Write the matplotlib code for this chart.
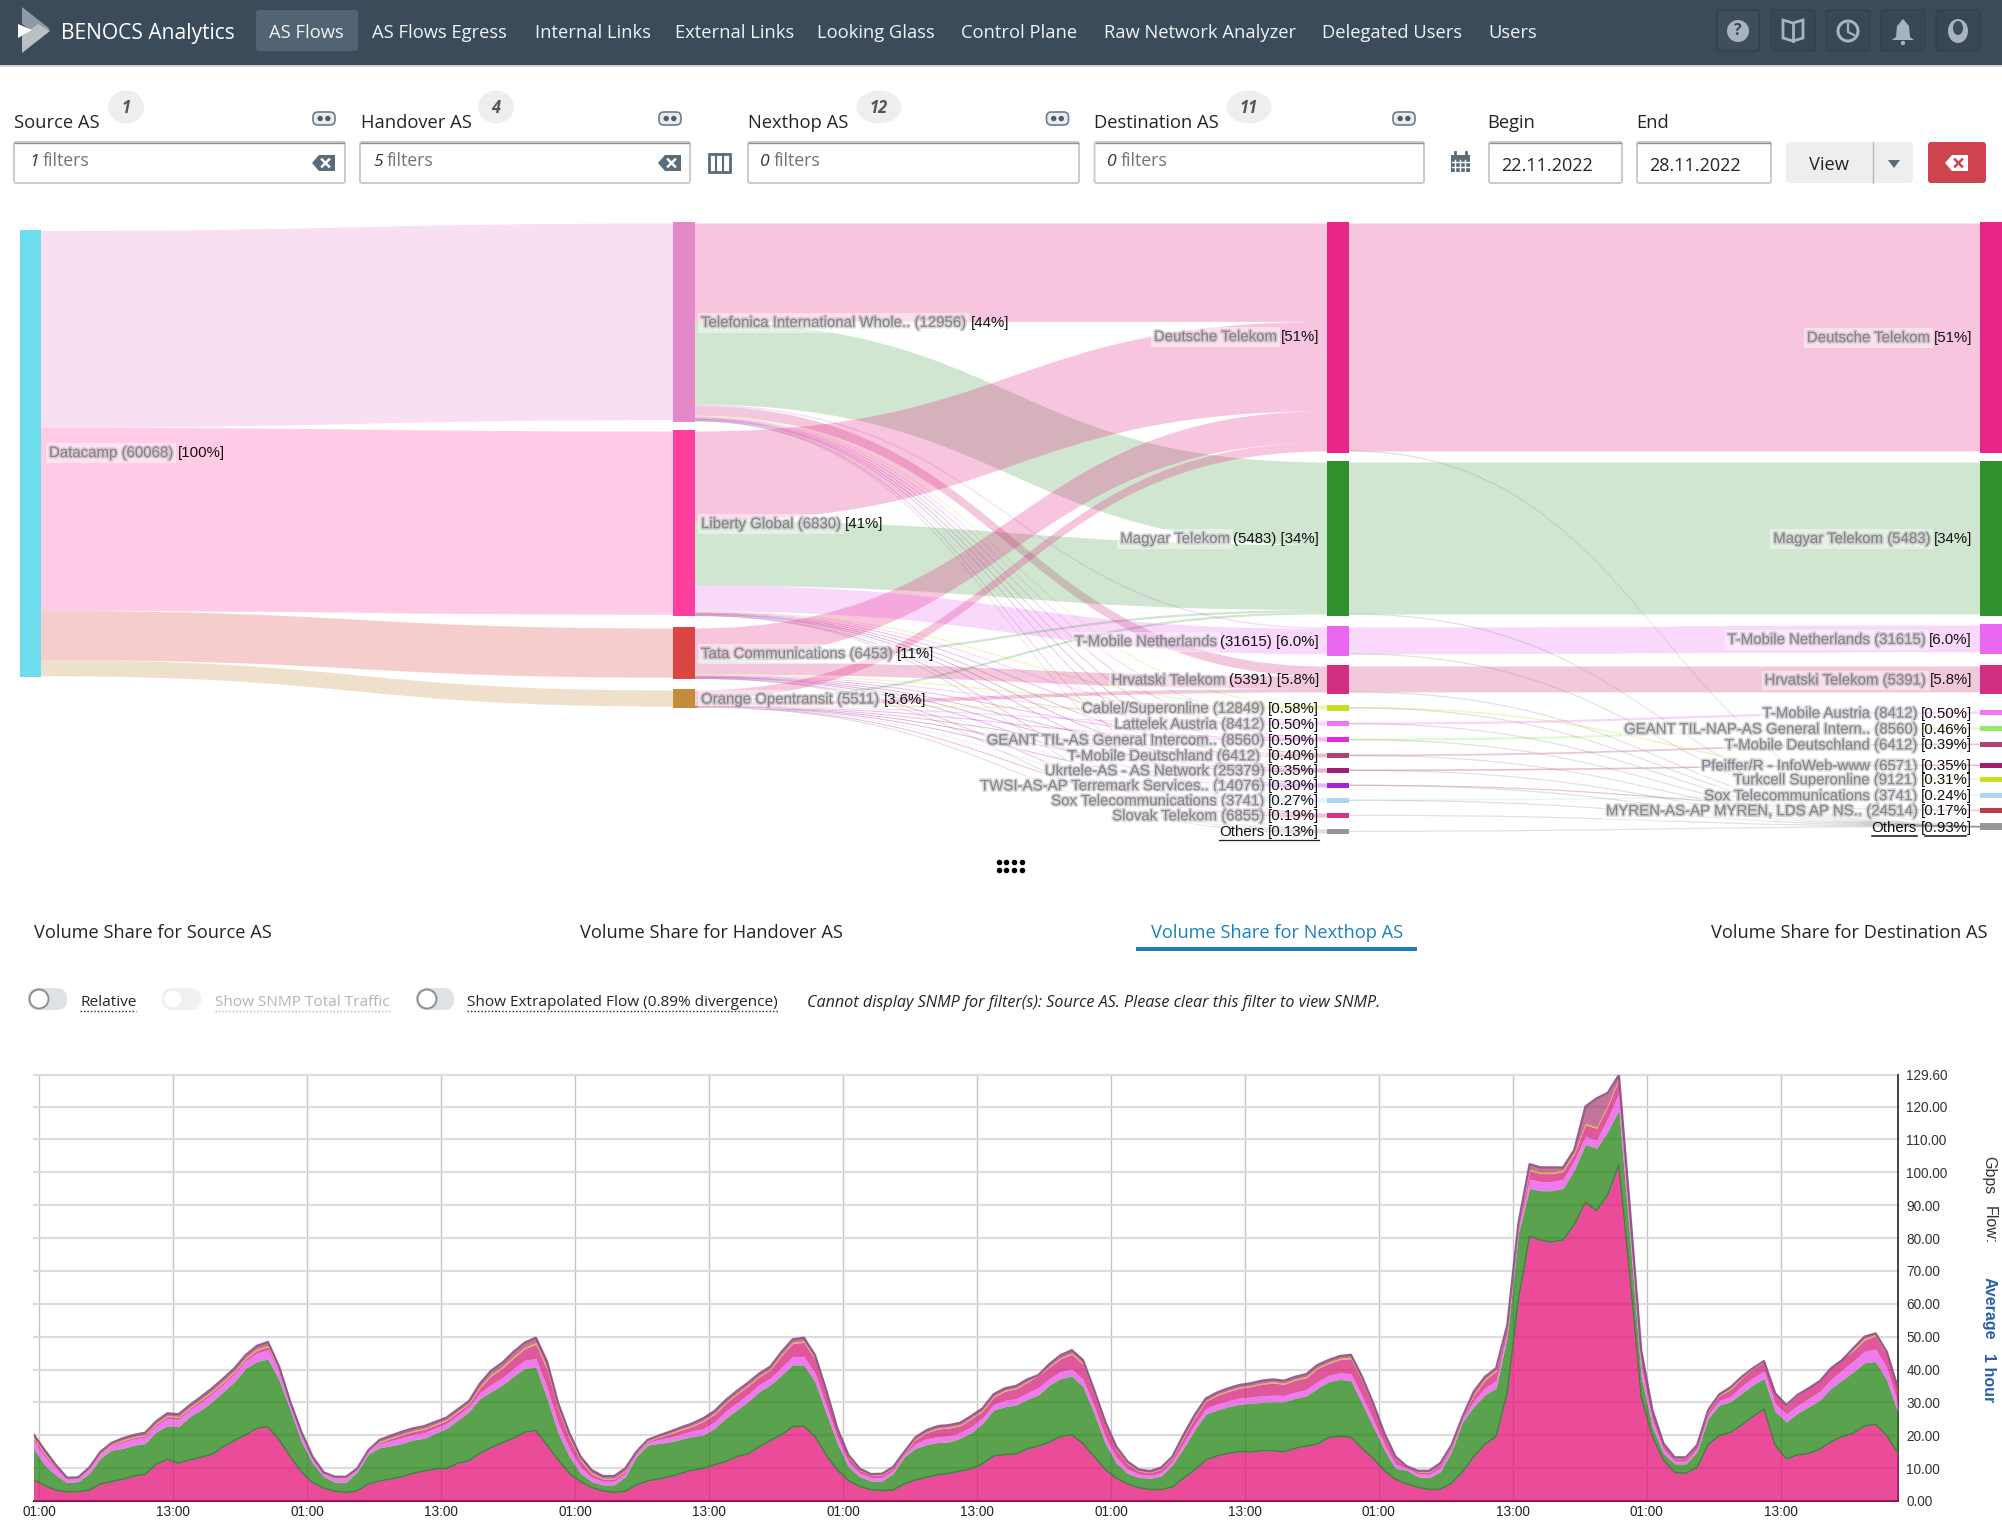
import matplotlib
matplotlib.use("Agg")
import matplotlib.pyplot as plt
import numpy as np
from matplotlib.patches import Rectangle, FancyBboxPatch, Ellipse, PathPatch, Polygon, Circle
from matplotlib.path import Path
import matplotlib.patheffects as pe

# ------------------------------------------------------------------ data
nav_items = ["AS Flows", "AS Flows Egress", "Internal Links", "External Links", "Looking Glass",
             "Control Plane", "Raw Network Analyzer", "Delegated Users", "Users"]
filter_labels = ["Source AS", "Handover AS", "Nexthop AS", "Destination AS"]
filter_badges = ["1", "4", "12", "11"]
filter_counts = ["1", "5", "0", "0"]
tab_labels = ["Volume Share for Source AS", "Volume Share for Handover AS",
              "Volume Share for Nexthop AS", "Volume Share for Destination AS"]

source_share = [100]
source_flows = [44, 41, 11, 3.6]
handover_names = ["Telefonica International Whole.. (12956)", "Liberty Global (6830)",
                  "Tata Communications (6453)", "Orange Opentransit (5511)"]
handover_share = [44, 41, 11, 3.6]
handover_pct = ["[44%]", "[41%]", "[11%]", "[3.6%]"]
nexthop_names = ["Deutsche Telekom", "Magyar Telekom", "T-Mobile Netherlands", "Hrvatski Telekom",
                 "Cablel/Superonline (12849)", "Lattelek Austria (8412)",
                 "GEANT TIL-AS General Intercom.. (8560)", "T-Mobile Deutschland (6412) ",
                 "Ukrtele-AS - AS Network (25379)", "TWSI-AS-AP Terremark Services.. (14076)",
                 "Sox Telecommunications (3741)", "Slovak Telekom (6855)", ""]
nexthop_crisp = ["[51%]", "(5483) [34%]", "(31615) [6.0%]", "(5391) [5.8%]", "[0.58%]", "[0.50%]",
                 "[0.50%]", "[0.40%]", "[0.35%]", "[0.30%]", "[0.27%]", "[0.19%]", "[0.13%]"]
nexthop_share = [51, 34, 6.0, 5.8, 0.58, 0.50, 0.50, 0.40, 0.35, 0.30, 0.27, 0.19, 0.13]
dest_names = ["Deutsche Telekom", "Magyar Telekom (5483)", "T-Mobile Netherlands (31615)",
              "Hrvatski Telekom (5391)", "T-Mobile Austria (8412)",
              "GEANT TIL-NAP-AS General Intern.. (8560)", "T-Mobile Deutschland (6412)",
              "Pfeiffer/R - InfoWeb-www (6571)", "Turkcell Superonline (9121)",
              "Sox Telecommunications (3741)", "MYREN-AS-AP MYREN, LDS AP NS.. (24514)", ""]
dest_crisp = ["[51%]", "[34%]", "[6.0%]", "[5.8%]", "[0.50%]", "[0.46%]", "[0.39%]", "[0.35%]",
              "[0.31%]", "[0.24%]", "[0.17%]", "[0.93%]"]
dest_share = [51, 34, 6.0, 5.8, 0.50, 0.46, 0.39, 0.35, 0.31, 0.24, 0.17, 0.93]

# handover -> nexthop main flows, percent of total
h_to_main = [[22, 18.5, 0.3, 2.2],
             [20, 14.5, 5.7, 0.0],
             [7, 0.5, 0.0, 2.8],
             [2, 0.5, 0.0, 0.8]]
# handover -> nexthop small flows, percent of total
h_to_small = [[.20, .18, .18, .14, .12, .10, .09, .07, .05],
              [.16, .14, .14, .12, .10, .09, .08, .05, .04],
              [.15, .12, .13, .10, .09, .08, .07, .05, .03],
              [.07, .06, .05, .04, .04, .03, .03, .02, .01]]
# nexthop small -> destination small (source index, target index, share)
small_links_src = [4, 5, 6, 7, 8, 9, 10, 4, 5, 6, 7, 8, 9, 10, 11, 12, 0, 1, 2, 3]
small_links_dst = [8, 4, 5, 6, 7, 10, 9, 11, 11, 11, 11, 11, 11, 11, 11, 11, 11, 11, 11, 11]
small_links_val = [.31, .50, .46, .39, .35, .17, .24, .1, .08, .06, .05, .04, .06, .05, .1, .13, .08, .07, .06, .06]

y_ticks = [0, 10, 20, 30, 40, 50, 60, 70, 80, 90, 100, 110, 120, 129.6]
x_tick_hours = [0, 12, 24, 36, 48, 60, 72, 84, 96, 108, 120, 132, 144, 156]
x_tick_labels = ["01:00", "13:00"] * 7

# hourly Gbps, 168 samples
pink_top = [6.4,4.7,3.3,2.8,2.8,3.3,5.2,5.9,6.6,7.6,
 8.1,11.2,12.7,11.5,12.5,13.3,14.2,16.5,18.4,20.1,
 22.1,22.6,18.6,13.5,8.9,5.6,3.9,3.0,2.6,3.1,
 5.2,6.1,6.7,7.4,8.4,9.1,9.8,9.9,11.5,12.3,
 14.5,16.3,17.7,19.1,20.9,21.4,17.0,12.5,8.4,5.9,
 4.1,3.1,2.6,2.9,4.9,6.1,6.7,7.4,8.4,9.4,
 9.9,11,12,13.5,14.3,16.5,18.4,20.1,22.6,22.8,
 19.6,14,9.4,6.2,4.4,3.4,3.2,3.3,5.2,6.4,
 7.2,8,8.4,9.1,9.8,11.3,13.7,14.1,14.3,15.8,
 16.7,18,19.6,20.1,17.5,13.5,9.6,6.9,5.2,4,
 3.5,3.5,4.2,6.9,9.4,12.5,13.7,14.5,15,14.9,
 15.3,15.3,15,16,16.7,17.3,19.3,19.7,19.4,16,
 13,9.2,6.6,
 5.2,4.2,3.5,3.6,5.4,8.9,13.5,17.3,19.6,32.8,
 61.2,80.6,79.4,78.8,79.4,84,90.9,88.3,93.1,102.2,
 68.3,31.7,19.6,12.5,8.7,8.4,10.2,17.2,19.9,20.9,
 23.1,25.7,27.9,17,12.8,14,14.5,15.8,18,19.6,
 20.6,22.8,23.3,19.9,14.5]
green_top = [16,11,7.9,5.6,5.9,8.4,13,15.5,16,17,
 17.5,21.1,22.9,22.6,25.7,27.7,30.2,33.3,36.3,40.4,
 42.4,43.2,36.8,27.7,18,11.5,7.4,5.7,5.7,8.9,
 14.3,16.2,16.8,17.5,18.6,19.1,20.6,22.1,24.6,27.2,
 31.2,33.3,35.3,38,40.4,40.7,31.2,20.6,13.5,8.4,
 5.9,4.9,4.9,7.4,13.5,17,17.5,18,18.8,19.6,
 20.1,22.1,25.2,27.7,30.2,33.3,35.3,38.3,41.4,41.4,
 36.3,26.7,17.5,10.4,7.4,6.1,6.1,8.4,13.5,16,
 17.2,17.8,18,19.1,20.8,23.6,27.7,28.7,29.2,30.9,
 32.3,35.3,37.3,38,34.8,26.7,17.5,11.5,8.4,7.2,
 6.9,7.6,11,16,21.6,26.4,27.7,28.7,29.4,29.7,
 30,30.2,30.2,31.2,32,34.3,36.3,37,36.6,29.7,
 22.6,15.5,9.9,
 9.4,7.4,7.1,8.9,15,24.1,28.7,32.3,34.3,50,
 81.4,95.1,94.4,94.4,95.1,100.7,108.5,107.3,112.4,119,
 79.4,37.8,22.6,14.5,11.3,11.3,15,25.2,29.2,30.2,
 32.8,35.3,37.3,27.2,24.1,26.7,28.7,30.7,34.3,36.8,
 39.3,42.1,42.4,36.8,26.7]
total_top = [20.3,15.5,11,7.1,7.2,10.2,15,17.7,19.1,20.1,
 20.8,24.3,26.7,26.4,29.2,31.7,34.3,37.3,40.4,44.4,
 47.2,48.4,40.9,30.2,21,13.5,8.7,7.4,7.4,9.9,
 15.5,18.6,19.9,21.1,22.1,22.8,24.1,25.4,27.9,30.4,
 35.8,39.7,42.1,45.4,48.2,49.7,42.4,29.7,20.6,13.5,
 9.4,7.6,7.6,9.9,15,18.6,19.9,21.1,22.4,23.6,
 25.2,27.4,30.7,33.5,36,38.8,40.9,45.4,49.2,49.7,
 44.4,33.8,22.1,14,9.9,8.2,8.3,10.4,15,19.4,
 21.6,22.8,23.1,23.8,25.9,28.2,32.5,34.3,35,37,
 38.3,41.7,44.4,45.9,42.9,33.8,24.1,16.5,12,9.6,
 9.1,10.2,13.5,20.1,26.2,31.2,33,34.3,35.3,35.8,
 36.6,37,36.6,37.8,38.6,41.4,42.9,44.1,44.5,37.8,
 29.7,20.6,13.5,
 10.6,9.2,9.2,11.5,17,25.7,33.3,37.8,40.4,53.5,
 84.5,102.5,101.5,101.5,101.5,106.8,120,122.5,124.2,129.6,
 88.5,45.9,27.7,17.5,13.3,13.3,17,27.7,32.5,34.6,
 37.8,40.4,42.6,32.8,29.2,32.3,34.3,36.5,40.4,42.9,
 46.5,50,51,45.4,34.3]
magenta_thick = [2.4,2.5,1.9,1,.9,1.2,1.2,1.3,1.9,1.9,
 1.9,1.8,2.2,2.2,2,2.3,2.3,2.2,2.3,2.2,
 2.6,2.8,2.3,1.4,1.6,1.1,.8,1,1,.7,.8,
 1.2,1.5,1.7,1.6,1.7,1.6,1.5,1.5,1.5,1.8,2.2,2.2,2.3,2.4,2.7,3.2,3,2.4,1.9,1.3,1.1,1.1,1,.7,
 .8,1.2,1.4,1.6,1.7,
 1.9,2,2.1,2.2,2.2,2.1,2.1,2.4,2.5,2.6,
 2.6,2.4,1.8,1.4,1.1,1,1,.9,.7,1.4,
 1.7,1.8,1.8,1.7,1.8,1.7,1.7,1.9,1.9,2,
 2.2,2,2.1,2.1,2.2,2.1,2,1.7,1.3,1,
 .9,1,1,1.5,1.7,1.7,1.8,1.8,1.9,1.9,
 2,2,1.9,1.9,1.9,2,1.9,2,2.1,2.2,
 2.1,1.7,1.3,
 .6,.9,1,1.2,.9,.8,1.8,2.1,2.3,1.5,
 1.4,2.8,2.8,2.8,2.8,2.8,2.4,2.5,4,5,
 3.5,3.2,1.9,1.2,.8,.8,.9,1,1.4,1.6,
 2.1,2.2,2.2,2.4,2.3,2.3,2.5,2.6,2.6,3.1,
 3.2,3.5,3.8,3.6,3]
rose_thick = [.7,.8,.5,.2,.1,.2,.2,.3,.4,.4,
 .5,.5,.6,.6,.5,.6,.6,.6,.6,.6,
 .8,.9,.6,.4,.5,.4,.2,.2,.2,.1,.1,
 .4,.7,.9,.9,1,.9,.9,.9,.8,1.5,2.6,2.9,3.2,3.5,4.3,5.6,4.4,3.1,2,1,.7,.7,.6,.3,
 .4,.7,1,1.2,1.4,
 2.2,2.3,2.4,2.6,2.6,2.4,2.5,3.6,4,4.3,
 4.2,3.7,2.1,1.5,.9,.7,.8,.7,.4,1.3,
 1.9,2.3,2.4,2.1,2.4,2,2.2,2.8,3,3.2,
 3.7,3.4,3.9,4.5,4.6,3.9,3.6,2.5,1.6,.9,
 .8,1,1,1.7,2,2.2,2.6,2.8,3,3.2,
 3.5,3.7,3.4,3.6,3.6,4,3.6,4,4.6,4.7,
 4,2.6,1.7,
 .4,.6,.6,.8,.7,.5,1.6,2.4,2.9,1.5,
 1.2,2.5,2.4,2.4,2.3,2.1,3.5,3.6,3.6,4.3,
 4,3.8,2.3,1.3,.8,.8,1.1,1,1.5,2.1,
 2.5,2.7,2.8,3,2.5,3.2,3.2,3.2,3.5,3.4,
 3.2,3.4,4,4.2,3.8]
gold_thick = [.4,.4,.3,.1,.1,.1,.2,.2,.3,.3,
 .3,.3,.3,.3,.3,.3,.4,.4,.4,.4,
 .4,.5,.4,.3,.3,.2,.1,.1,.1,.1,.1,
 .3,.3,.3,.3,.3,.3,.3,.3,.3,.4,.5,.5,.5,.5,.5,.6,.5,.4,.4,.3,.2,.2,.2,.1,
 .2,.2,.3,.3,.3,
 .3,.3,.3,.3,.3,.3,.3,.4,.4,.4,
 .4,.4,.2,.2,.1,.1,.1,.1,.1,.2,
 .2,.3,.3,.3,.3,.3,.3,.3,.3,.3,
 .3,.3,.3,.4,.4,.4,.3,.3,.2,.1,
 .1,.1,.1,.2,.2,.2,.3,.3,.3,.3,
 .3,.4,.4,.4,.4,.4,.4,.4,.5,.4,
 .3,.3,.2,
 .1,.1,.1,.1,.2,.2,.3,.4,.4,.4,
 .3,.5,.5,.5,.5,.4,.5,.4,.5,.5,
 .4,.3,.3,.2,.1,.1,.1,.1,.2,.3,
 .3,.3,.3,.4,.3,.4,.4,.4,.4,.4,
 .4,.5,.5,.4,.3]

# ------------------------------------------------------------------ layout (pixels of the 2002x1524 canvas)
W, H = 2002, 1524
fig = plt.figure(figsize=(W/100, H/100), dpi=100, facecolor="white")
ui = fig.add_axes([0, 0, 1, 1], zorder=0)
ui.set_xlim(0, W); ui.set_ylim(H, 0); ui.axis("off")
UI = "Open Sans"; AR = "Liberation Sans"
px = 0.72  # points per canvas pixel

def T(x, y, s, size=17, color="#212529", ha="left", va="center", family=UI, **kw):
    return ui.text(x, y, s, fontsize=size*px, color=color, ha=ha, va=va, family=family, **kw)

def rbox(x0, y0, x1, y1, r=3, fc="white", ec="none", lw=1, z=2):
    p = FancyBboxPatch((x0+r, y0+r), x1-x0-2*r, y1-y0-2*r, boxstyle=f"round,pad={r},rounding_size={r}",
                       fc=fc, ec=ec, lw=lw, zorder=z)
    ui.add_patch(p); return p

# nav bar
ui.add_patch(Rectangle((0, 0), W, 65, fc="#3b4b5a", ec="none"))
ui.add_patch(Rectangle((0, 65), W, 2, fc="#d3d8dc", ec="none"))
ui.add_patch(Polygon([(22, 7), (50, 29), (38, 36), (22, 24)], fc="#8f9aa4", ec="none", zorder=2))
ui.add_patch(Polygon([(22, 53), (50, 31), (38, 24), (22, 36)], fc="#b9c0c6", ec="none", zorder=2))
ui.add_patch(Polygon([(18, 24), (32, 30), (18, 38)], fc="white", ec="none", zorder=3))
T(61, 33.5, "BENOCS Analytics", 21, "white", zorder=3)
rbox(256, 10, 358, 51, r=3, fc="#526373")
nav_x = [269, 372, 535, 675, 817, 961, 1103.5, 1322, 1488]
for x, s in zip(nav_x, nav_items):
    T(x, 33.5, s, 18.4, "#f1f3f5", zorder=3)
icon_boxes = [(1717, 1759), (1771, 1815), (1826, 1870), (1881, 1925), (1936, 1980)]
for i, (a, b) in enumerate(icon_boxes):
    rbox(a, 10, b, 51, r=4, fc="#384755" if i else "#3f4e5c", ec="#33414d", lw=1)
ic = "#a8b3bd"
ui.add_patch(Circle((1738, 31), 11, fc=ic, ec="none", zorder=3))
T(1738, 31, "?", 16, "#3b4b5a", ha="center", weight="bold", zorder=4)
ui.add_patch(Polygon([(1783, 20), (1793, 23), (1803, 20), (1803, 38), (1793, 41), (1783, 38)], fc="none", ec=ic, lw=2, zorder=3))
ui.plot([1793, 1793], [23, 41], color=ic, lw=2, zorder=3)
ui.add_patch(Circle((1848, 31), 10, fc="none", ec=ic, lw=2.2, zorder=3))
ui.plot([1848, 1848, 1854], [24, 32, 35], color=ic, lw=1.6, zorder=3)
ui.add_patch(Polygon([(1903, 19), (1909, 26), (1910, 37), (1914, 40), (1892, 40), (1896, 37), (1897, 26)], fc=ic, ec="none", zorder=3))
ui.add_patch(Circle((1903, 43), 2.2, fc=ic, ec="none", zorder=3))
ui.add_patch(Ellipse((1958, 31), 20, 24, fc=ic, ec="none", zorder=3))
ui.add_patch(Ellipse((1958, 28), 10, 14, fc="#3b4b5a", ec="none", zorder=4))

# filters
lab_x = [14, 361, 748, 1094]
badge_x = [126, 496, 879, 1249]
badge_w = [36, 36, 45, 45]
eye_x = [324, 670, 1057.5, 1404]
box_x = [(14, 345), (360, 690), (748, 1079), (1094.5, 1424)]
num_x = [29, 373, 760, 1107]
for i in range(4):
    ui.add_patch(Ellipse((badge_x[i], 107), badge_w[i], 33, fc="#eeeeee", ec="none", zorder=1))
    T(badge_x[i], 108, filter_badges[i], 16.5, "#555555", ha="center", style="italic", weight="bold", zorder=3)
    T(lab_x[i], 122.5, filter_labels[i], 18.4, zorder=3)
    rbox(eye_x[i]-11, 112, eye_x[i]+11, 125, r=5, fc="#e9ecef", ec="#6c7d8c", lw=1.2)
    ui.add_patch(Circle((eye_x[i]-3.8, 118.5), 2.7, fc="#4d5d6b", ec="none", zorder=3))
    ui.add_patch(Circle((eye_x[i]+3.8, 118.5), 2.7, fc="#4d5d6b", ec="none", zorder=3))
    a, b = box_x[i]
    rbox(a, 142, b, 183, r=2, fc="white", ec="#c4c7ca", lw=1.3)
    ui.plot([a+1, b-1], [142.5, 142.5], color="#8f9397", lw=1, zorder=3)
    T(num_x[i], 162, filter_counts[i], 17.5, "#333333", style="italic", zorder=3)
    T(num_x[i]+14, 161, "filters", 17.8, "#6c757d", zorder=3)

def clear_icon(cx, cy, fc, xc, s=1.0):
    ui.add_patch(Polygon([(cx-12*s, cy), (cx-5*s, cy-8*s), (cx+11*s, cy-8*s), (cx+11*s, cy+8*s), (cx-5*s, cy+8*s)],
                         fc=fc, ec="none", zorder=3))
    ui.plot([cx-2*s, cx+5*s], [cy-3.5*s, cy+3.5*s], color=xc, lw=1.8, zorder=4)
    ui.plot([cx-2*s, cx+5*s], [cy+3.5*s, cy-3.5*s], color=xc, lw=1.8, zorder=4)
clear_icon(324, 163, "#5a6b7a", "white")
clear_icon(670, 163, "#5a6b7a", "white")
ui.add_patch(Rectangle((709, 154), 21, 18, fc="none", ec="#5a6b7a", lw=2, zorder=3))
ui.plot([716, 716], [154, 172], color="#5a6b7a", lw=1.5, zorder=3)
ui.plot([723, 723], [154, 172], color="#5a6b7a", lw=1.5, zorder=3)
# calendar
ui.add_patch(Rectangle((1451, 155), 19, 17, fc="#5a6b7a", ec="none", zorder=3))
for xx in (1455, 1460, 1465):
    ui.plot([xx, xx], [160, 171], color="white", lw=1, zorder=4)
for yy in (162, 167):
    ui.plot([1452, 1469], [yy, yy], color="white", lw=1, zorder=4)
ui.plot([1455, 1455], [152, 157], color="#5a6b7a", lw=2, zorder=4)
ui.plot([1466, 1466], [152, 157], color="#5a6b7a", lw=2, zorder=4)
T(1487, 123.5, "Begin", 18.4); T(1636, 123.5, "End", 18.4)
for a, b, s, tx in [(1489, 1622, "22.11.2022", 1501), (1637, 1771, "28.11.2022", 1649)]:
    rbox(a, 142, b, 183, r=2, fc="white", ec="#c4c7ca", lw=1.3)
    ui.plot([a+1, b-1], [142.5, 142.5], color="#8f9397", lw=1, zorder=3)
    T(tx, 166, s, 18, zorder=3)
rbox(1786, 142, 1913, 183, r=3, fc="#eeeeee")
ui.plot([1873, 1873], [142, 183], color="#b5b9bc", lw=1, zorder=3)
T(1829, 165, "View", 18.4, ha="center", zorder=3)
ui.add_patch(Polygon([(1888, 160), (1900, 160), (1894, 168)], fc="#5a6b7a", ec="none", zorder=3))
rbox(1928, 142, 1986, 183, r=3, fc="#cf444c")
clear_icon(1957, 163, "white", "#cf444c")

# ------------------------------------------------------------------ sankey
SCALE = 4.47
col_x = [(20, 41), (673, 695), (1327, 1349), (1980, 2002)]
source_color = ["#66dcec"]
handover_color = ["#e482c8", "#ff3399", "#dc3a3a", "#bf8630"]
nexthop_color = ["#e6197f", "#228b22", "#e75ef0", "#d02479", "#c8dc14", "#f36cf6", "#e619e6",
                 "#a83a6e", "#9c0f6e", "#a016dc", "#aad4f0", "#cc2a7a", "#909090"]
dest_color = ["#e6197f", "#228b22", "#e75ef0", "#d02479", "#f36cf6", "#8fe860", "#a83a6e",
              "#9c0f6e", "#c8dc14", "#aad4f0", "#b8323c", "#909090"]
source_top = [230]
handover_top = [222, 430, 627, 689]
nexthop_top = [222, 461, 626, 665, 705, 721, 737, 753, 768, 783, 798, 813, 829]
dest_top = [222, 461, 624, 665, 710, 726, 742, 763, 777, 793, 808, 823]
main_alpha = [0.25, 0.21, 0.24, 0.25]

def node_h(share):
    return max(share*SCALE + 3, 4.5)

def ribbon(x0, x1, y0a, y0b, y1a, y1b, color, alpha, z=1):
    xm = (x0+x1)/2
    verts = [(x0, y0a), (xm, y0a), (xm, y1a), (x1, y1a), (x1, y1b), (xm, y1b), (xm, y0b), (x0, y0b), (x0, y0a)]
    codes = [Path.MOVETO, Path.CURVE4, Path.CURVE4, Path.CURVE4, Path.LINETO, Path.CURVE4, Path.CURVE4, Path.CURVE4, Path.CLOSEPOLY]
    ui.add_patch(PathPatch(Path(verts, codes), fc=color, ec="none", alpha=alpha, zorder=z))

# source -> handover
cur = source_top[0] + 1
for i, f in enumerate(source_flows):
    h = f*SCALE
    ribbon(col_x[0][1], col_x[1][0], cur, cur+h, handover_top[i]+1.5, handover_top[i]+1.5+h, handover_color[i], 0.25)
    cur += h

# handover -> nexthop
src_cur = [t+1.5 for t in handover_top]
dst_cur = [t+1.5 for t in nexthop_top]
dst_order = [0, 1, 2, 3]
for hi in range(4):
    for ti, v in zip(dst_order, h_to_main[hi]):
        if v <= 0:
            continue
        h = v*SCALE
        ribbon(col_x[1][1], col_x[2][0], src_cur[hi], src_cur[hi]+h, dst_cur[ti], dst_cur[ti]+h, nexthop_color[ti], main_alpha[ti])
        src_cur[hi] += h; dst_cur[ti] += h
    for sj, v in enumerate(h_to_small[hi]):
        ti = sj + 4
        h = max(v*SCALE, 1.0)
        step = v*SCALE
        tgt = nexthop_top[ti] + 0.5 + hi*min(node_h(nexthop_share[ti])/4.5, 1.0)
        ribbon(col_x[1][1], col_x[2][0], src_cur[hi], src_cur[hi]+h, tgt, tgt+h, nexthop_color[ti], 0.32)
        src_cur[hi] += step

# nexthop -> destination main
for i in range(4):
    h = nexthop_share[i]*SCALE
    ya = nexthop_top[i]+1.5
    yb = dest_top[i]+1.5
    ribbon(col_x[2][1], col_x[3][0], ya, ya+h, yb, yb+h, dest_color[i], main_alpha[i])
# nexthop -> destination thin links
for s, d, v in zip(small_links_src, small_links_dst, small_links_val):
    ys = nexthop_top[s] + node_h(nexthop_share[s])/2 if s >= 4 else nexthop_top[s] + node_h(nexthop_share[s]) - 2
    yd = dest_top[d] + node_h(dest_share[d])/2
    col = "#909090" if d == 11 else dest_color[d]
    h = max(v*SCALE, 1.2)
    ribbon(col_x[2][1], col_x[3][0], ys-h/2, ys+h/2, yd-h/2, yd+h/2, col, 0.28)

# nodes
def nodes(cidx, tops, shares, colors, pad=True):
    a, b = col_x[cidx]
    for t, s, c in zip(tops, shares, colors):
        ui.add_patch(Rectangle((a, t), b-a, node_h(s) if pad else s*SCALE, fc=c, ec="none", alpha=0.95, zorder=4))
nodes(0, source_top, source_share, source_color, pad=False)
nodes(1, handover_top, handover_share, handover_color)
nodes(2, nexthop_top, nexthop_share, nexthop_color)
nodes(3, dest_top, dest_share, dest_color)

# labels: the identifiers are blurred in the original, so they are drawn as faint smeared text
fig.canvas.draw()
rend = fig.canvas.get_renderer()
inv = ui.transData.inverted()
LAB = 15
def extent(t):
    bb = t.get_window_extent(rend)
    p0 = inv.transform((bb.x0, bb.y0)); p1 = inv.transform((bb.x1, bb.y1))
    return p0[0], p1[0]
def blurred(x, y, s, ha):
    t = T(x, y, s, LAB, "#6d6a70", ha=ha, family=AR, alpha=0.62, zorder=6,
          bbox=dict(fc="white", ec="none", alpha=0.45, pad=2))
    t.set_path_effects([pe.withStroke(linewidth=2.4, foreground="#a8a4aa", alpha=0.45)])
    return t
def right_label(xr, y, name, crisp):
    t = T(xr, y, crisp, LAB, "#111111", ha="right", family=AR, zorder=7)
    a, _ = extent(t)
    if name:
        blurred(a-3, y, name, "right")
    return a, t
def left_label(xl, y, name, crisp):
    t = blurred(xl, y, name, "left")
    _, b = extent(t)
    T(b+4, y, crisp, LAB, "#111111", family=AR, zorder=7)

left_label(49, 453, "Datacamp (60068)", "[100%]")
for i in range(4):
    cy = handover_top[i] + node_h(handover_share[i])/2 + 1
    left_label(701, cy, handover_names[i], handover_pct[i])
for i in range(13):
    cy = nexthop_top[i] + node_h(nexthop_share[i])/2 + 1
    if i == 0:
        cy = 337
    if i == 1:
        cy = 539
    if i == 12:
        a, t = right_label(1319, cy, "", nexthop_crisp[i])
        o = T(a-4, cy, "Others", LAB, "#111111", ha="right", family=AR, zorder=7)
        a2, b2 = extent(o)
        ui.plot([a2, 1319], [cy+8, cy+8], color="#222222", lw=0.9, zorder=7)
    else:
        right_label(1319, cy, nexthop_names[i], nexthop_crisp[i])
for i in range(12):
    cy = dest_top[i] + node_h(dest_share[i])/2 + 1
    if i == 0:
        cy = 338
    if i == 1:
        cy = 539
    if i == 11:
        a, t = right_label(1972, cy, "", dest_crisp[i])
        o = T(a-4, cy, "Others", LAB, "#111111", ha="right", family=AR, zorder=7)
        a2, b2 = extent(o)
        ui.plot([a2, b2], [cy+8.5, cy+8.5], color="#111111", lw=1.1, zorder=7)
        ui.plot([a+4, 1966], [cy+8.5, cy+8.5], color="#111111", lw=1.1, zorder=7)
    else:
        right_label(1972, cy, dest_names[i], dest_crisp[i])

# drag handle
gx = [998.5, 1006.3, 1014.1, 1021.9]
ui.scatter(gx*2, [862]*4+[870]*4, s=16, color="black", zorder=5, linewidths=0)

# tabs
tab_x = [34, 580, 1151, 1711]
for i, (x, s) in enumerate(zip(tab_x, tab_labels)):
    T(x, 933.5, s, 18.3, "#1a7ebf" if i == 2 else "#212529")
ui.add_patch(Rectangle((1136, 947), 281, 4, fc="#1a7ebf", ec="none"))

# toggles
def toggle(a, b, fc, ec):
    rbox(a, 988, b, 1010, r=10.5, fc=fc)
    ui.add_patch(Circle((a+11, 999), 9.5, fc="white", ec=ec, lw=1.4, zorder=3))
toggle(28, 67, "#dee2e6", "#8a8f94")
toggle(162, 201, "#eff1f3", "#eceef0")
toggle(416, 454, "#dee2e6", "#8a8f94")
def opt(x, s, color):
    t = T(x, 1002.5, s, 15.4, color)
    a, b = extent(t)
    ui.plot([a, b], [1011, 1011], color=color, lw=1, ls=(0, (1, 1.5)), zorder=3)
opt(80, "Relative", "#212529")
opt(215, "Show SNMP Total Traffic", "#adb5bd")
opt(467, "Show Extrapolated Flow (0.89% divergence)", "#212529")
T(807, 1003, "Cannot display SNMP for filter(s): Source AS. Please clear this filter to view SNMP.", 16.1, "#212529", style="italic")

# ------------------------------------------------------------------ stacked area chart
L, R, TOP, BOT = 33.5, 1898, 1075, 1501
ax = fig.add_axes([L/W, 1-BOT/H, (R-L)/W, (BOT-TOP)/H], zorder=2)
ax.patch.set_alpha(0)
hours = np.arange(len(total_top)) - 0.5
pink = np.array(pink_top); green = np.array(green_top); total = np.array(total_top)
mag = green + np.array(magenta_thick)
ros = mag + np.array(rose_thick)
gol = ros + np.array(gold_thick)
gol = np.minimum(gol, total)
bounds = [np.zeros_like(pink), pink, green, mag, ros, gol, total]
fills = ["#e31078", "#238313", "#e84fe9", "#d6207b", "#d99a10", "#a83a6e"]
alphas = [0.75, 0.75, 0.75, 0.75, 0.75, 0.7]
for i, c in enumerate(fills):
    ax.fill_between(hours, bounds[i], bounds[i+1], color=c, alpha=alphas[i], lw=0, zorder=3)
ax.plot(hours, pink, color="#3f7a3a", lw=1.1, alpha=0.85, zorder=4)
ax.plot(hours, total, color="#8c4f86", lw=1.6, alpha=0.9, zorder=4)
ax.set_xlim(-0.5, 166.5); ax.set_ylim(0, 129.6)
ax.set_yticks(y_ticks); ax.set_yticklabels([f"{v:.2f}" for v in y_ticks], fontsize=13.6*px, family=AR, color="#333333")
ax.set_xticks(x_tick_hours); ax.set_xticklabels(x_tick_labels, fontsize=13.6*px, family=AR, color="#222222")
ax.yaxis.tick_right()
ax.tick_params(axis="y", length=0, pad=6)
ax.tick_params(axis="x", length=0, pad=3)
ax.set_axisbelow(True)
ax.grid(axis="y", color="#dcdcdc", lw=1.6, clip_on=False)
ax.grid(axis="x", color="#c4c4c4", lw=1.0)
for s in ("top", "left"):
    ax.spines[s].set_visible(False)
ax.spines["right"].set_color("#222222"); ax.spines["right"].set_linewidth(1.2)
ax.spines["bottom"].set_color("#222222"); ax.spines["bottom"].set_linewidth(1.4)

T(1989, 1175, "Gbps", 16, "#333333", ha="center", family=AR, rotation=270)
T(1989, 1225, "Flow:", 16, "#333333", ha="center", family=AR, rotation=270)
T(1989, 1308, "Average", 16, "#2a5db0", ha="center", family=AR, rotation=270, weight="bold")
T(1989, 1378, "1 hour", 16, "#2a5db0", ha="center", family=AR, rotation=270, weight="bold")

fig.savefig("out.png", dpi=100, facecolor="white")
